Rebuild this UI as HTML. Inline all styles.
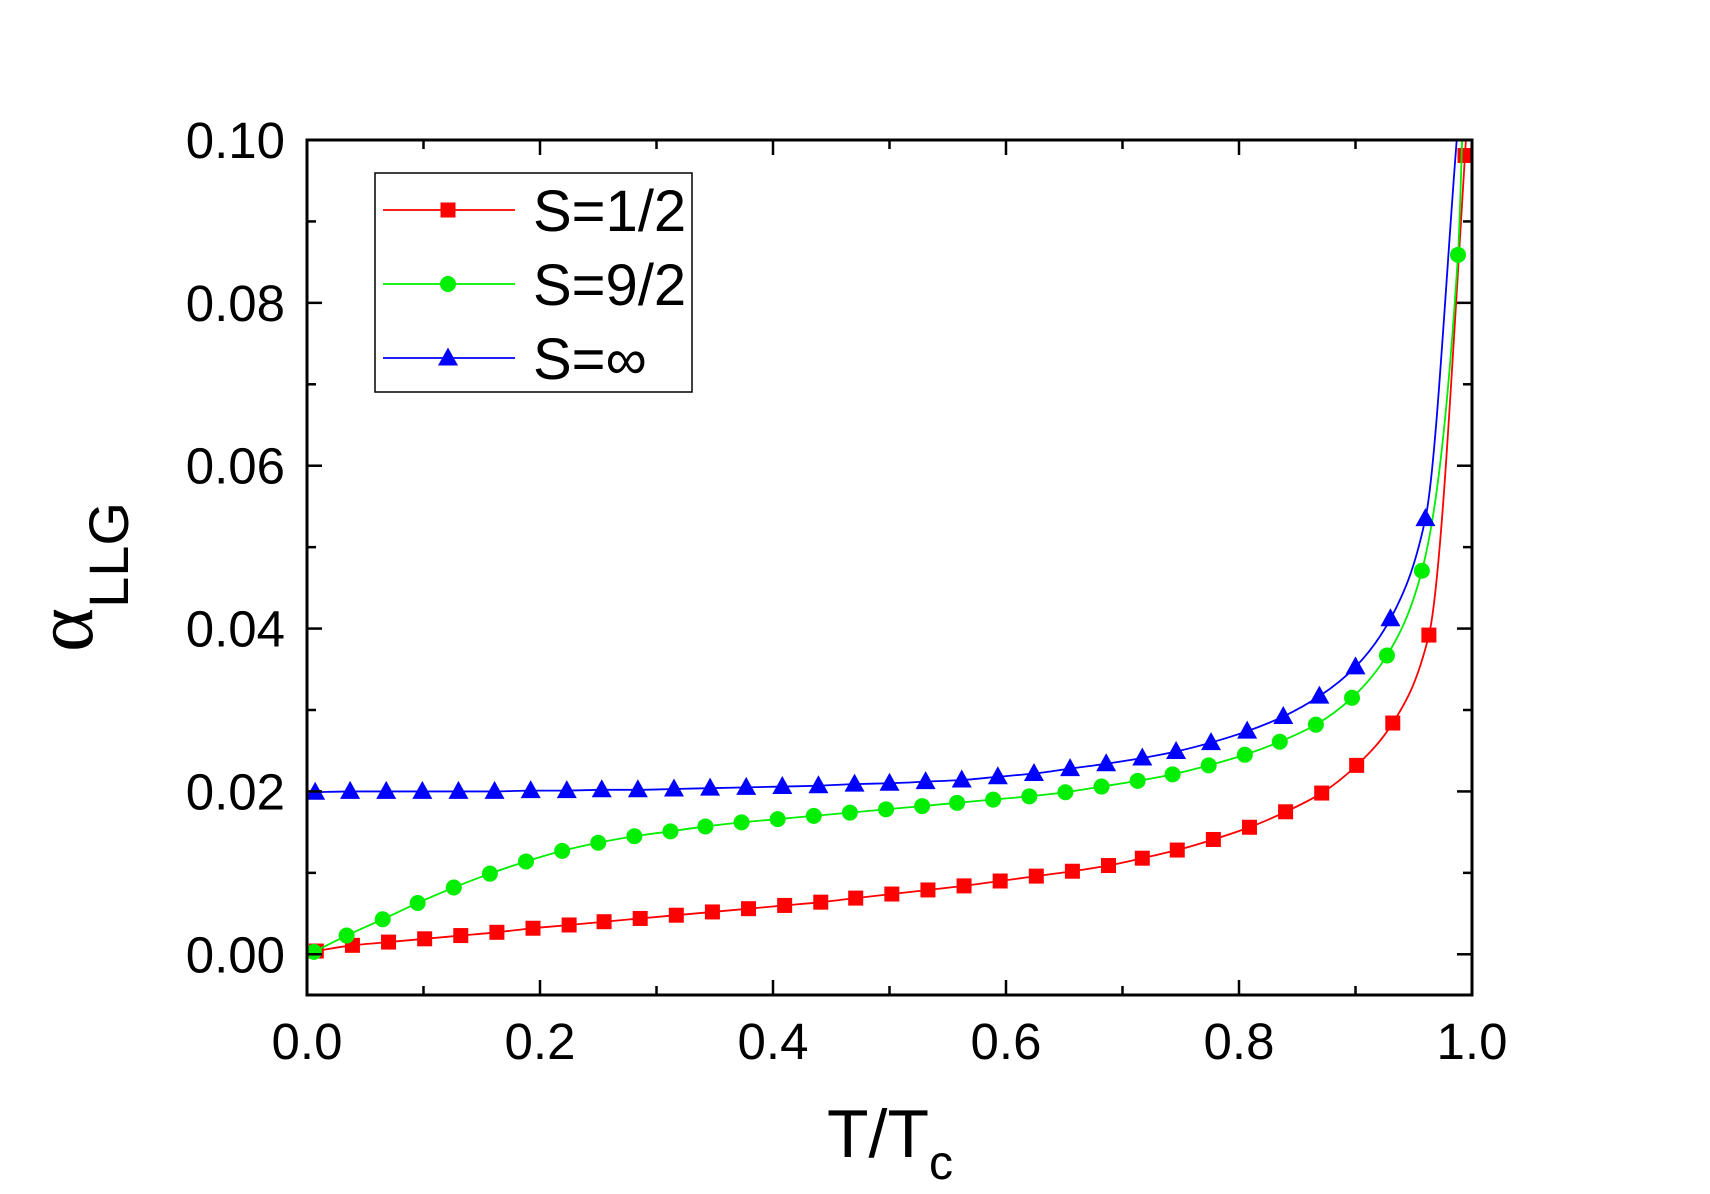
<!DOCTYPE html>
<html><head><meta charset="utf-8"><style>
html,body{margin:0;padding:0;background:#fff;}
svg{display:block;font-family:"Liberation Sans",Arial,sans-serif;}
</style></head><body>
<svg id="chart" width="1710" height="1194" viewBox="0 0 1710 1194" xmlns="http://www.w3.org/2000/svg">
<defs><clipPath id="clip"><rect x="307" y="140" width="1165" height="855"/></clipPath></defs>
<g id="series" clip-path="url(#clip)"></g>
<g id="axes"></g>
<g id="legend"></g>
<text x="890" y="1157" font-size="68" text-anchor="middle">T/T<tspan font-size="48" dy="22">c</tspan></text>
<g transform="translate(92,577) rotate(-90)">
<text x="0" y="0" text-anchor="middle"><tspan font-family="Liberation Serif,serif" font-size="84">α</tspan><tspan font-size="56" dy="36">LLG</tspan></text>
</g>
</svg>
<script>
const xTicks=[0,0.2,0.4,0.6,0.8,1.0];
const xTickLabels=["0.0","0.2","0.4","0.6","0.8","1.0"];
const yTicks=[0,0.02,0.04,0.06,0.08,0.10];
const yTickLabels=["0.00","0.02","0.04","0.06","0.08","0.10"];
const redX=[.008,.039,.070,.101,.132,.163,.194,.225,.255,.286,.317,.348,.379,.410,.441,.471,.502,.533,.564,.595,.626,.657,.688,.717,.747,.778,.809,.840,.871,.901,.932,.963,.994];
const redY=[.0004,.0011,.0015,.0019,.0023,.0027,.0032,.0036,.0040,.0044,.0048,.0052,.0056,.0060,.0064,.0069,.0074,.0079,.0084,.0090,.0096,.0102,.0109,.0118,.0128,.0141,.0156,.0175,.0198,.0232,.0284,.0392,.0981];
const greenX=[.006,.034,.065,.095,.126,.157,.188,.219,.250,.281,.312,.342,.373,.404,.435,.466,.497,.528,.558,.589,.620,.651,.682,.713,.743,.774,.805,.835,.866,.897,.927,.957,.988];
const greenY=[.0003,.0023,.0043,.0063,.0082,.0099,.0114,.0127,.0137,.0145,.0151,.0157,.0162,.0166,.0170,.0174,.0178,.0182,.0186,.0190,.0194,.0199,.0206,.0213,.0221,.0232,.0245,.0261,.0282,.0315,.0367,.0471,.0859];
const blueX=[.007,.037,.068,.099,.130,.161,.192,.223,.253,.284,.315,.346,.377,.408,.439,.470,.500,.531,.562,.593,.624,.655,.686,.717,.746,.776,.807,.838,.869,.900,.930,.960];
const blueY=[.0199,.0200,.0200,.0200,.0200,.0200,.0201,.0201,.0202,.0202,.0203,.0204,.0205,.0206,.0207,.0209,.0210,.0212,.0214,.0218,.0222,.0228,.0234,.0241,.0249,.0260,.0274,.0292,.0317,.0353,.0412,.0535];
const tailX=[.9955,.992,.988];
const tailY=[0.102,0.102,0.102];
const NS="http://www.w3.org/2000/svg";
const L=307,R=1472,T=140,B=995,XMIN=0,XMAX=1,YMIN=-0.005,YMAX=0.1;
function sx(v){return L+(v-XMIN)/(XMAX-XMIN)*(R-L);}
function sy(v){return B-(v-YMIN)/(YMAX-YMIN)*(B-T);}
function mk(tag,attrs,parent){const e=document.createElementNS(NS,tag);for(const k in attrs)e.setAttribute(k,attrs[k]);parent.appendChild(e);return e;}
const axes=document.getElementById('axes'),series=document.getElementById('series'),legend=document.getElementById('legend');
const fr=mk('rect',{x:L,y:T,width:R-L,height:B-T,fill:'none',stroke:'#000','stroke-width':3},axes);


for(let i=0;i<=10;i++){const v=i/10,x=sx(v),len=(i%2===0)?15:9;
 const t1=mk('line',{x1:x,y1:B,x2:x,y2:B-len,stroke:'#000','stroke-width':2.5},axes);
 
 
 const t2=mk('line',{x1:x,y1:T,x2:x,y2:T+len,stroke:'#000','stroke-width':2.5},axes);
 
 }
xTicks.forEach((v,i)=>{const t=mk('text',{x:sx(v),y:1059,'font-size':51,'text-anchor':'middle'},axes);t.textContent=xTickLabels[i];
 
 });
for(let i=0;i<=10;i++){const v=i*0.01,y=sy(v),len=(i%2===0)?15:9;
 const t1=mk('line',{x1:L,y1:y,x2:L+len,y2:y,stroke:'#000','stroke-width':2.5},axes);
 
 
 const t2=mk('line',{x1:R,y1:y,x2:R-len,y2:y,stroke:'#000','stroke-width':2.5},axes);
 
 }
yTicks.forEach((v,i)=>{const t=mk('text',{x:285,y:sy(v)+18,'font-size':51,'text-anchor':'end'},axes);t.textContent=yTickLabels[i];
 
 });
// monotone cubic (Fritsch-Carlson) path
function pathFrom(xs,ys){const n=xs.length,X=xs.map(sx),Y=ys.map(sy);
 const d=[],m=new Array(n);
 for(let i=0;i<n-1;i++)d.push((Y[i+1]-Y[i])/(X[i+1]-X[i]));
 m[0]=d[0];m[n-1]=d[n-2];
 for(let i=1;i<n-1;i++){ if(d[i-1]*d[i]<=0)m[i]=0; else {const w1=2*(X[i+1]-X[i])+(X[i]-X[i-1]),w2=(X[i+1]-X[i])+2*(X[i]-X[i-1]);m[i]=(w1+w2)/(w1/d[i-1]+w2/d[i]);}}
 let p='M'+X[0]+','+Y[0];
 for(let i=0;i<n-1;i++){const h=(X[i+1]-X[i])/3;
  p+=' C'+(X[i]+h)+','+(Y[i]+m[i]*h)+' '+(X[i+1]-h)+','+(Y[i+1]-m[i+1]*h)+' '+X[i+1]+','+Y[i+1];}
 return p;}
function marker(kind,x,y,color,parent){let e;
 if(kind==='square')e=mk('rect',{x:x-7.5,y:y-7.5,width:15,height:15,fill:color},parent);
 else if(kind==='circle')e=mk('circle',{cx:x,cy:y,r:8,fill:color},parent);
 else e=mk('polygon',{points:`${x},${y-10.5} ${x-10},${y+7.5} ${x+10},${y+7.5}`,fill:color},parent);
 return e;}
const defs=[{n:'s-half',xs:redX,ys:redY,c:'#ff0000',k:'square',ti:0},{n:'s-nine-half',xs:greenX,ys:greenY,c:'#00ee00',k:'circle',ti:1},{n:'s-infinity',xs:blueX,ys:blueY,c:'#0000ff',k:'triangle',ti:2}];
defs.forEach(s=>{
 const xs=s.xs.slice(),ys=s.ys.slice();
 if(tailX[s.ti]>xs[xs.length-1]){xs.push(tailX[s.ti]);ys.push(tailY[s.ti]);}
 const pth=mk('path',{d:pathFrom(xs,ys),fill:'none',stroke:s.c,'stroke-width':1.8},series);
 
 
 s.xs.forEach((x,i)=>{const m=marker(s.k,sx(x),sy(s.ys[i]),s.c,series);
  
  });
});
const lb=mk('rect',{x:375,y:173,width:317,height:219,fill:'#fff',stroke:'#000','stroke-width':1.5},legend);


const labels=['S=1/2','S=9/2','S=\u221E'];
defs.forEach((s,i)=>{const y=210+i*74;
 const g=mk('g',{},legend);
 
 
 mk('line',{x1:383,y1:y,x2:515,y2:y,stroke:s.c,'stroke-width':1.8},g);
 marker(s.k,448,y,s.c,g);
 const t=mk('text',{x:533,y:y+21,'font-size':58},g);t.textContent=labels[i];});
</script>
</body></html>
